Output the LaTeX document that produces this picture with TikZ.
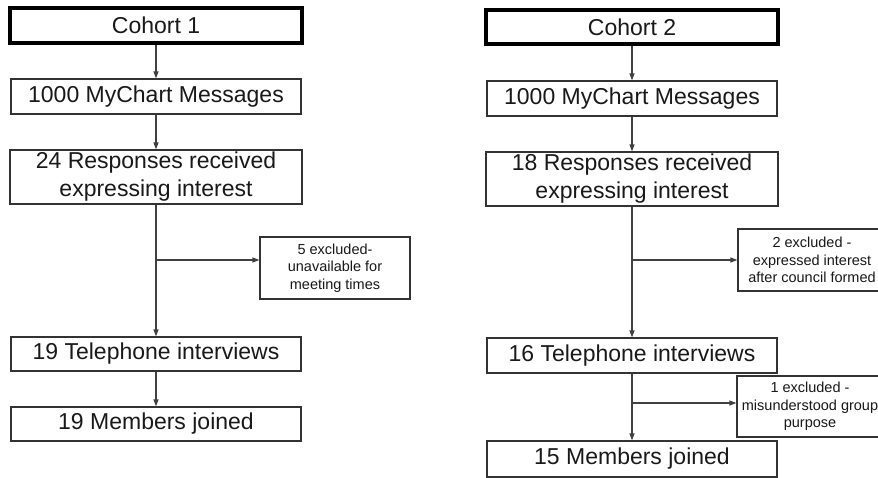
\documentclass[tikz,border=0pt]{standalone}
\usepackage{fontspec}
\setmainfont{Liberation Sans}
\usepackage{tikz}
\usetikzlibrary{arrows.meta}

\tikzset{
    box/.style={draw=black!80, line width=1.2pt, fill=white, align=center,
        inner sep=0pt, font=\fontsize{23}{28}\selectfont, text=black!90},
    headbox/.style={box, draw=black, line width=3.4pt},
    exbox/.style={box, font=\fontsize{14.5}{17.4}\selectfont},
    arr/.style={draw=black!75, line width=1.2pt, -{Triangle[length=7pt,width=5pt]}}
}

\begin{document}
\begin{tikzpicture}[x=1pt,y=-1pt]
    \path[use as bounding box, clip] (0,0) rectangle (878,477);
    \pgfmathsetmacro{\xa}{156}
    \pgfmathsetmacro{\xb}{632}
    \pgfmathsetmacro{\w}{290}
    % Draw cohort 1
    \node [headbox, minimum width=292, minimum height=35] (c1) at (\xa,25.5) {Cohort 1};
    \node [box, minimum width=\w, minimum height=35] (m1) at (\xa,96.5) {1000 MyChart Messages};
    \node [box, minimum width=292, minimum height=54] (r1) at (\xa,177) {24 Responses received\\expressing interest};
    \node [exbox, minimum width=150, minimum height=62] (x1) at (335,268) {5 excluded-\\unavailable for\\meeting times};
    \node [box, minimum width=\w, minimum height=34] (t1) at (\xa,354) {19 Telephone interviews};
    \node [box, minimum width=\w, minimum height=34] (j1) at (\xa,424) {19 Members joined};
    \coordinate (b1) at (\xa,260);

    \draw [arr] (c1) -- (m1);
    \draw [arr] (m1) -- (r1);
    \draw [arr] (r1) -- (t1);
    \draw [arr] (b1) -- (b1 -| x1.west);
    \draw [arr] (t1) -- (j1);

    % Draw cohort 2
    \node [headbox, minimum width=292, minimum height=34] (c2) at (\xb,27) {Cohort 2};
    \node [box, minimum width=\w, minimum height=35] (m2) at (\xb,98.5) {1000 MyChart Messages};
    \node [box, minimum width=292, minimum height=54] (r2) at (\xb,179) {18 Responses received\\expressing interest};
    \node [exbox, minimum width=148, minimum height=62] (x2) at (812,260) {2 excluded -\\expressed interest\\after council formed};
    \node [box, minimum width=\w, minimum height=35] (t2) at (\xb,355.5) {16 Telephone interviews};
    \node [exbox, minimum width=146, minimum height=61] (x3) at (810,406.5) {1 excluded -\\misunderstood group\\purpose};
    \node [box, minimum width=\w, minimum height=36] (j2) at (\xb,459) {15 Members joined};
    \coordinate (b2) at (\xb,260);
    \coordinate (b3) at (\xb,403);

    \draw [arr] (c2) -- (m2);
    \draw [arr] (m2) -- (r2);
    \draw [arr] (r2) -- (t2);
    \draw [arr] (b2) -- (b2 -| x2.west);
    \draw [arr] (t2) -- (j2);
    \draw [arr] (b3) -- (b3 -| x3.west);
\end{tikzpicture}
\end{document}
